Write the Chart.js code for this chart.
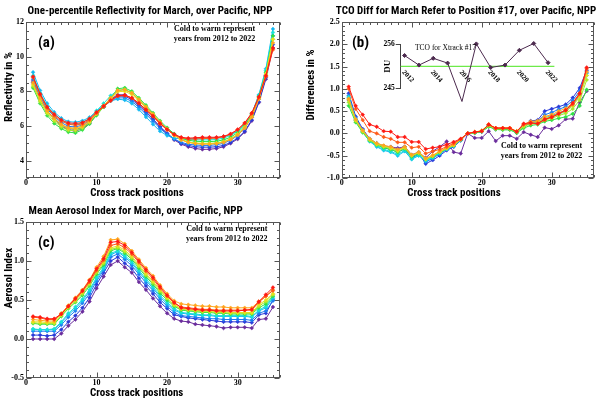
<!DOCTYPE html>
<html><head><meta charset="utf-8">
<script src="https://cdn.jsdelivr.net/npm/chart.js@4.4.1/dist/chart.umd.min.js"></script>
<style>
html,body{margin:0;padding:0;background:#fff;}
#wrap{position:relative;width:600px;height:406px;overflow:hidden;background:#fff;}
canvas{position:absolute;}
</style></head><body>
<div id="wrap">
<canvas id="cA" width="300" height="200" style="left:0;top:0;width:300px;height:200px"></canvas>
<canvas id="cB" width="300" height="200" style="left:300px;top:0;width:300px;height:200px"></canvas>
<canvas id="cC" width="300" height="200" style="left:0;top:200px;width:300px;height:200px"></canvas>
<canvas id="cI" width="200" height="80" style="left:382px;top:30px;width:200px;height:80px"></canvas>
</div>
<script>
// ---------------- DATA ----------------
const positions = [1,2,3,4,5,6,7,8,9,10,11,12,13,14,15,16,17,18,19,20,21,22,23,24,25,26,27,28,29,30,31,32,33,34,35];
const years = ['2012','2013','2014','2015','2016','2017','2018','2019','2020','2021','2022'];
const yearColors = ['#6a2c9c','#2a3ad8','#1c7cf0','#12b8f2','#18e2d6','#2ee044','#a6e82a','#e6e020','#ffa61e','#ff5a18','#ff1a14'];

// (a) One-percentile reflectivity (%)
const refl_2012 = [8.60,7.60,6.85,6.40,6.00,5.78,5.70,5.85,6.15,6.65,7.10,7.55,7.80,7.80,7.60,7.25,6.85,6.40,5.95,5.55,5.20,4.95,4.80,4.70,4.65,4.66,4.70,4.80,5.00,5.25,5.65,6.30,7.35,8.70,10.50];
const refl_2013 = [8.50,7.55,6.85,6.42,6.05,5.85,5.80,5.92,6.22,6.68,7.10,7.50,7.72,7.72,7.52,7.18,6.80,6.38,5.95,5.58,5.25,5.00,4.88,4.80,4.78,4.78,4.80,4.88,5.05,5.30,5.70,6.35,7.40,8.80,10.70];
const refl_2014 = [8.70,7.70,6.98,6.55,6.20,5.98,5.95,6.05,6.30,6.72,7.10,7.45,7.62,7.62,7.42,7.08,6.68,6.28,5.85,5.52,5.25,5.05,4.95,4.90,4.88,4.88,4.92,5.00,5.18,5.45,5.88,6.50,7.55,9.00,11.20];
const refl_2015 = [9.10,8.05,7.30,6.80,6.45,6.25,6.22,6.30,6.50,6.85,7.20,7.45,7.55,7.50,7.30,6.95,6.52,6.10,5.70,5.45,5.30,5.25,5.25,5.28,5.30,5.30,5.32,5.38,5.50,5.72,6.10,6.70,7.80,9.30,11.60];
const refl_2016 = [8.90,7.90,7.15,6.70,6.35,6.12,6.08,6.18,6.45,6.88,7.30,7.75,8.05,8.10,7.90,7.52,7.10,6.65,6.20,5.82,5.52,5.30,5.22,5.20,5.20,5.20,5.22,5.30,5.45,5.70,6.08,6.70,7.75,9.20,11.40];
const refl_2017 = [8.20,7.30,6.60,6.15,5.85,5.65,5.60,5.78,6.12,6.62,7.10,7.60,8.15,8.20,8.00,7.62,7.20,6.75,6.30,5.90,5.55,5.30,5.18,5.12,5.10,5.10,5.12,5.20,5.35,5.62,6.00,6.65,7.70,9.10,11.20];
const refl_2018 = [8.30,7.40,6.72,6.28,5.95,5.75,5.72,5.88,6.20,6.68,7.12,7.58,8.05,8.10,7.92,7.55,7.12,6.68,6.22,5.82,5.48,5.22,5.08,5.02,5.00,5.00,5.02,5.10,5.25,5.52,5.92,6.58,7.62,9.00,11.00];
const refl_2019 = [8.40,7.50,6.80,6.38,6.05,5.85,5.82,5.95,6.25,6.70,7.12,7.55,7.98,8.00,7.82,7.45,7.05,6.62,6.18,5.80,5.45,5.20,5.07,5.00,4.98,4.98,5.00,5.08,5.25,5.52,5.92,6.55,7.60,9.00,11.00];
const refl_2020 = [8.50,7.60,6.88,6.45,6.10,5.90,5.88,6.00,6.30,6.75,7.18,7.62,8.05,8.10,7.90,7.52,7.10,6.68,6.22,5.82,5.48,5.20,5.05,4.98,4.95,4.95,4.98,5.05,5.22,5.48,5.88,6.50,7.55,8.90,10.80];
const refl_2021 = [8.80,7.80,7.05,6.60,6.28,6.10,6.05,6.12,6.35,6.75,7.12,7.45,7.72,7.75,7.60,7.30,6.92,6.55,6.12,5.78,5.50,5.32,5.25,5.25,5.28,5.28,5.30,5.38,5.52,5.78,6.15,6.72,7.65,8.85,10.40];
const refl_2022 = [8.85,7.85,7.10,6.68,6.35,6.18,6.15,6.20,6.42,6.80,7.15,7.48,7.75,7.78,7.62,7.32,6.95,6.58,6.15,5.80,5.52,5.35,5.30,5.32,5.35,5.35,5.35,5.40,5.55,5.80,6.18,6.75,7.68,8.90,10.50];

// (b) TCO difference relative to position #17 (%)
const diff_2012 = [0.75,0.30,0.05,-0.15,-0.25,-0.28,-0.30,-0.33,-0.30,-0.48,-0.42,-0.55,-0.40,-0.30,-0.18,-0.42,-0.45,0.00,-0.10,-0.10,0.05,-0.17,-0.05,-0.05,-0.12,0.03,-0.03,-0.08,0.13,0.10,0.18,0.32,0.33,0.70,0.95];
const diff_2013 = [0.90,0.38,0.10,-0.12,-0.22,-0.28,-0.32,-0.36,-0.30,-0.52,-0.45,-0.68,-0.60,-0.50,-0.38,-0.30,-0.16,0.00,0.02,0.04,0.17,0.10,0.10,0.10,0.02,0.18,0.28,0.30,0.50,0.55,0.60,0.65,0.80,1.02,1.42];
const diff_2014 = [0.85,0.35,0.08,-0.14,-0.25,-0.32,-0.36,-0.42,-0.35,-0.55,-0.47,-0.64,-0.56,-0.46,-0.36,-0.29,-0.15,0.00,0.01,0.04,0.16,0.09,0.09,0.09,0.02,0.16,0.25,0.27,0.42,0.47,0.54,0.60,0.74,0.95,1.38];
const diff_2015 = [0.80,0.30,0.03,-0.18,-0.30,-0.38,-0.42,-0.50,-0.40,-0.58,-0.50,-0.62,-0.55,-0.45,-0.35,-0.28,-0.15,0.00,0.02,0.05,0.18,0.11,0.11,0.11,0.03,0.17,0.24,0.25,0.35,0.40,0.46,0.52,0.66,0.88,1.35];
const diff_2016 = [0.82,0.30,0.04,-0.17,-0.28,-0.36,-0.40,-0.47,-0.38,-0.57,-0.49,-0.60,-0.54,-0.44,-0.35,-0.28,-0.14,0.00,0.02,0.05,0.18,0.11,0.11,0.11,0.03,0.16,0.23,0.24,0.32,0.37,0.43,0.49,0.62,0.85,1.30];
const diff_2017 = [0.62,0.25,0.02,-0.16,-0.26,-0.32,-0.36,-0.42,-0.34,-0.52,-0.45,-0.58,-0.52,-0.43,-0.34,-0.27,-0.14,0.00,0.01,0.04,0.15,0.09,0.08,0.08,0.01,0.12,0.18,0.20,0.27,0.30,0.34,0.37,0.44,0.62,0.98];
const diff_2018 = [0.70,0.28,0.04,-0.15,-0.25,-0.30,-0.34,-0.40,-0.33,-0.50,-0.44,-0.58,-0.51,-0.42,-0.34,-0.27,-0.14,0.00,0.02,0.05,0.17,0.10,0.10,0.10,0.03,0.15,0.22,0.22,0.30,0.34,0.40,0.45,0.55,0.75,1.20];
const diff_2019 = [0.76,0.30,0.06,-0.13,-0.23,-0.28,-0.32,-0.38,-0.31,-0.49,-0.43,-0.57,-0.50,-0.41,-0.33,-0.26,-0.13,0.00,0.03,0.06,0.20,0.12,0.12,0.12,0.05,0.18,0.25,0.26,0.34,0.38,0.44,0.50,0.62,0.82,1.30];
const diff_2020 = [0.78,0.32,0.07,-0.12,-0.22,-0.27,-0.30,-0.36,-0.30,-0.48,-0.42,-0.56,-0.49,-0.40,-0.32,-0.25,-0.13,0.00,0.03,0.06,0.19,0.12,0.12,0.12,0.05,0.20,0.27,0.28,0.38,0.42,0.50,0.56,0.68,0.90,1.38];
const diff_2021 = [1.00,0.55,0.30,0.05,0.00,-0.08,-0.12,-0.20,-0.20,-0.32,-0.30,-0.45,-0.40,-0.36,-0.30,-0.22,-0.13,0.00,0.03,0.05,0.20,0.12,0.12,0.12,0.04,0.20,0.22,0.22,0.30,0.38,0.45,0.52,0.65,0.88,1.45];
const diff_2022 = [1.05,0.62,0.42,0.20,0.15,0.05,0.04,-0.08,-0.08,-0.19,-0.19,-0.35,-0.32,-0.30,-0.25,-0.19,-0.12,0.00,0.03,0.05,0.20,0.12,0.12,0.12,0.04,0.22,0.24,0.22,0.32,0.36,0.44,0.52,0.68,0.90,1.48];

// (c) Mean aerosol index
const ai_2012 = [0.00,0.00,0.00,0.00,0.07,0.17,0.25,0.35,0.48,0.65,0.80,0.95,1.00,0.92,0.85,0.73,0.63,0.52,0.42,0.33,0.26,0.23,0.22,0.19,0.18,0.17,0.16,0.14,0.15,0.15,0.15,0.14,0.25,0.26,0.41];
const ai_2013 = [0.05,0.05,0.04,0.05,0.12,0.22,0.30,0.40,0.53,0.70,0.85,1.00,1.05,0.97,0.90,0.78,0.68,0.58,0.47,0.39,0.31,0.29,0.27,0.26,0.25,0.24,0.23,0.22,0.22,0.22,0.22,0.21,0.31,0.33,0.50];
const ai_2014 = [0.10,0.10,0.10,0.10,0.18,0.28,0.36,0.46,0.58,0.74,0.88,1.05,1.09,1.02,0.94,0.83,0.72,0.62,0.51,0.42,0.34,0.30,0.29,0.28,0.27,0.26,0.26,0.25,0.25,0.25,0.25,0.24,0.33,0.36,0.49];
const ai_2015 = [0.12,0.12,0.12,0.12,0.21,0.31,0.39,0.49,0.61,0.77,0.90,1.08,1.12,1.05,0.97,0.86,0.75,0.65,0.54,0.45,0.37,0.33,0.32,0.31,0.30,0.30,0.29,0.29,0.29,0.29,0.29,0.28,0.36,0.40,0.52];
const ai_2016 = [0.13,0.12,0.12,0.13,0.22,0.33,0.41,0.51,0.63,0.79,0.92,1.10,1.13,1.07,0.99,0.88,0.77,0.67,0.56,0.47,0.39,0.34,0.33,0.32,0.31,0.31,0.30,0.30,0.30,0.30,0.30,0.29,0.37,0.42,0.54];
const ai_2017 = [0.20,0.19,0.19,0.19,0.29,0.39,0.47,0.56,0.68,0.83,0.95,1.13,1.16,1.10,1.02,0.91,0.80,0.70,0.59,0.50,0.42,0.37,0.36,0.35,0.34,0.34,0.33,0.33,0.32,0.32,0.32,0.32,0.40,0.45,0.55];
const ai_2018 = [0.21,0.20,0.20,0.20,0.30,0.40,0.48,0.58,0.70,0.85,0.97,1.15,1.17,1.12,1.04,0.93,0.82,0.72,0.61,0.52,0.43,0.38,0.37,0.36,0.35,0.35,0.34,0.34,0.33,0.33,0.33,0.33,0.42,0.48,0.57];
const ai_2019 = [0.22,0.22,0.21,0.21,0.31,0.41,0.50,0.60,0.72,0.87,0.99,1.17,1.19,1.14,1.06,0.95,0.84,0.74,0.63,0.53,0.44,0.39,0.38,0.37,0.36,0.36,0.35,0.35,0.34,0.34,0.34,0.34,0.44,0.50,0.58];
const ai_2020 = [0.25,0.24,0.23,0.23,0.33,0.43,0.53,0.63,0.76,0.92,1.06,1.27,1.28,1.22,1.13,1.02,0.91,0.81,0.69,0.58,0.49,0.45,0.44,0.43,0.42,0.42,0.41,0.41,0.40,0.40,0.40,0.40,0.48,0.55,0.63];
const ai_2021 = [0.28,0.27,0.25,0.25,0.32,0.42,0.51,0.61,0.73,0.88,1.01,1.20,1.22,1.17,1.09,0.98,0.87,0.77,0.65,0.55,0.46,0.41,0.40,0.39,0.38,0.38,0.37,0.37,0.37,0.37,0.37,0.37,0.47,0.55,0.62];
const ai_2022 = [0.29,0.28,0.26,0.26,0.32,0.42,0.52,0.62,0.75,0.90,1.03,1.24,1.25,1.20,1.11,1.00,0.89,0.79,0.67,0.56,0.47,0.40,0.39,0.38,0.37,0.37,0.36,0.36,0.36,0.36,0.37,0.38,0.48,0.57,0.66];

// inset: TCO for cross-track #17 (DU)
const insetYears = [2012,2013,2014,2015,2016,2017,2018,2019,2020,2021,2022];
const insetTco   = [253.2,250.8,252.5,251.3,241.7,256.1,250.2,250.8,254.5,256.2,251.4];
const insetRefLevel = 250.5;

// tick labels
const xTickValues = [0,10,20,30];
const reflTicks = [4,6,8,10,12];
const diffTicks = [-1.0,-0.5,0.0,0.5,1.0,1.5,2.0,2.5];
const aiTicks = [-0.5,0.0,0.5,1.0,1.5];
const insetTickYears = [2012,2014,2016,2018,2020,2022];
const insetYTicks = [245,256];

// ---------------- STYLE / PLUGINS ----------------
const SANS = "'Liberation Sans Narrow','Roboto Condensed','Liberation Sans',sans-serif";
const SERIF = "'Liberation Serif','DejaVu Serif',serif";
Chart.defaults.color = '#000';

function minorValues(min, max, step) {
  const out = []; let k = Math.ceil(min / step - 1e-6);
  for (;; k++) { const v = +(k * step).toFixed(6); if (v > max + 1e-6) break; out.push(v); }
  return out;
}
const framePlugin = {
  id: 'idlFrame',
  beforeDatasetsDraw(chart, args, o) {
    if (!o || !o.display) return;
    const {ctx, chartArea: a} = chart;
    const x = chart.scales.x, y = chart.scales.y;
    const isMajor = (s, v) => s.ticks.some(t => Math.abs(t.value - v) < 1e-6);
    ctx.save();
    ctx.strokeStyle = o.color; ctx.lineWidth = 1;
    const L = Math.round(a.left) + 0.5, R = Math.round(a.right) - 0.5, T = Math.round(a.top) + 0.5, B = Math.round(a.bottom) - 0.5;
    ctx.strokeRect(L, T, R - L, B - T);
    ctx.beginPath();
    for (const v of minorValues(x.min, x.max, o.xMinor)) {
      const p = Math.round(x.getPixelForValue(v)) + 0.5;
      const len = isMajor(x, v) ? o.majorLen : o.minorLen;
      ctx.moveTo(p, B); ctx.lineTo(p, B - len);
      ctx.moveTo(p, T); ctx.lineTo(p, T + len);
    }
    for (const v of minorValues(y.min, y.max, o.yMinor)) {
      const p = Math.round(y.getPixelForValue(v)) + 0.5;
      const len = isMajor(y, v) ? o.majorLen : o.minorLen;
      ctx.moveTo(L, p); ctx.lineTo(L + len, p);
      ctx.moveTo(R, p); ctx.lineTo(R - len, p);
    }
    ctx.stroke();
    ctx.restore();
  }
};
const notesPlugin = {
  id: 'notes',
  afterDatasetsDraw(chart, args, o) {
    if (!o || !o.items) return;
    const {ctx, chartArea: a} = chart;
    ctx.save();
    for (const it of o.items) {
      ctx.font = it.font; ctx.fillStyle = it.color || '#000';
      ctx.textAlign = it.align || 'left'; ctx.textBaseline = 'middle';
      ctx.fillText(it.text, a.left + it.dx, a.top + it.dy);
    }
    ctx.restore();
  }
};
const shiftPlugin = {
  id: 'shiftTitles',
  afterLayout(chart, args, o) {
    if (!o) return;
    if (o.title && chart.titleBlock) { chart.titleBlock.left += o.title; chart.titleBlock.right += o.title; }
    for (const id of ['x', 'y']) {
      const d = o[id]; const s = chart.scales[id];
      if (!d || !s) continue;
      if (!s.__origDrawTitle) s.__origDrawTitle = s.drawTitle;
      const orig = s.__origDrawTitle;
      s.drawTitle = function () {
        const h = this.isHorizontal();
        if (h) { this.left += d; this.right += d; } else { this.top += d; this.bottom += d; }
        try { orig.call(this); } finally {
          if (h) { this.left -= d; this.right -= d; } else { this.top -= d; this.bottom -= d; }
        }
      };
    }
  }
};

function seriesDatasets(list) {
  return list.map((arr, i) => ({
    label: years[i],
    data: positions.map((p, j) => ({x: p, y: arr[j]})),
    borderColor: yearColors[i], backgroundColor: yearColors[i],
    borderWidth: 1, pointRadius: 1.9, pointStyle: 'rectRot', pointBorderWidth: 0.5,
    tension: 0, order: list.length - 1 - i
  }));
}

const TFONT = {family: SANS, size: 11, weight: 'bold'};

function panel(id, c) {
  return new Chart(document.getElementById(id), {
    type: 'line',
    data: {datasets: seriesDatasets(c.series)},
    options: {
      responsive: false, animation: false, events: [],
      layout: {padding: 0},
      plugins: {
        legend: {display: false}, tooltip: {enabled: false},
        title: {display: true, text: c.title, color: '#000', font: TFONT, padding: {top: 4.5, bottom: 4.3}},
        idlFrame: {display: true, color: '#555', xMinor: 1, yMinor: c.yMinor, majorLen: 5, minorLen: 2.5},
        notes: {items: c.notes},
        shiftTitles: c.shift
      },
      scales: {
        x: {
          type: 'linear', position: 'bottom', min: 0, max: 36,
          afterBuildTicks: s => { s.ticks = xTickValues.map(v => ({value: v})); },
          afterFit: s => { s.height = 22; },
          grid: {display: false, drawTicks: false}, border: {display: false},
          ticks: {autoSkip: false, maxRotation: 0, padding: 0, color: '#000', font: {family: SERIF, size: 8, weight: 'bold'}, callback: v => String(v)},
          title: {display: true, text: 'Cross track positions', color: '#000', font: TFONT, padding: {top: 0, bottom: 0.4}}
        },
        y: {
          type: 'linear', position: 'left', min: c.yMin, max: c.yMax,
          afterBuildTicks: s => { s.ticks = c.yTicks.map(v => ({value: v})); },
          afterFit: s => { s.width = c.yWidth; },
          grid: {display: false, drawTicks: false}, border: {display: false},
          ticks: {autoSkip: false, padding: 2, color: '#000', font: {family: SERIF, size: 8, weight: 'bold'}, callback: c.fmt},
          title: {display: true, text: c.yTitle, color: '#000', font: TFONT, padding: {top: c.yTitlePad, bottom: 0}}
        },
        r: {
          type: 'linear', position: 'right', display: true,
          grid: {display: false, drawTicks: false}, border: {display: false}, ticks: {display: false},
          afterFit: s => { s.width = c.rWidth; }
        }
      }
    },
    plugins: [framePlugin, notesPlugin, shiftPlugin]
  });
}

const NOTE_FONT = "bold 8px 'Liberation Serif','DejaVu Serif',serif";
const LABEL_FONT = "bold 15px 'Liberation Sans Narrow','Roboto Condensed','Liberation Sans',sans-serif";

panel('cA', {
  title: 'One-percentile Reflectivity for March, over Pacific, NPP',
  yTitle: 'Reflectivity in %',
  series: [refl_2012, refl_2013, refl_2014, refl_2015, refl_2016, refl_2017, refl_2018, refl_2019, refl_2020, refl_2021, refl_2022],
  yMin: 3, yMax: 12, yTicks: reflTicks, yMinor: 0.5, fmt: v => String(v),
  yWidth: 26, rWidth: 20, yTitlePad: 2.7,
  shift: {title: 0, x: -16, y: -13},
  notes: [
    {text: '(a)', dx: 12, dy: 21, font: LABEL_FONT},
    {text: 'Cold to warm represent', dx: 188.5, dy: 7, align: 'center', font: NOTE_FONT},
    {text: 'years from 2012 to 2022', dx: 188.5, dy: 17, align: 'center', font: NOTE_FONT}
  ]
});

panel('cB', {
  title: 'TCO Diff for March Refer to Position #17, over Pacific, NPP',
  yTitle: 'Differences in %',
  series: [diff_2012, diff_2013, diff_2014, diff_2015, diff_2016, diff_2017, diff_2018, diff_2019, diff_2020, diff_2021, diff_2022],
  yMin: -1.0, yMax: 2.5, yTicks: diffTicks, yMinor: 0.1, fmt: v => v.toFixed(1),
  yWidth: 41.7, rWidth: 6.3, yTitlePad: 5.1,
  shift: {title: 16, x: -13.7, y: -15},
  notes: [
    {text: '(b)', dx: 10.3, dy: 21, font: LABEL_FONT},
    {text: 'Cold to warm represent', dx: 199.8, dy: 124.3, align: 'center', font: NOTE_FONT},
    {text: 'years from 2012 to 2022', dx: 199.8, dy: 133.5, align: 'center', font: NOTE_FONT}
  ]
});

panel('cC', {
  title: 'Mean Aerosol Index for March, over Pacific, NPP',
  yTitle: 'Aerosol Index',
  series: [ai_2012, ai_2013, ai_2014, ai_2015, ai_2016, ai_2017, ai_2018, ai_2019, ai_2020, ai_2021, ai_2022],
  yMin: -0.5, yMax: 1.5, yTicks: aiTicks, yMinor: 0.1, fmt: v => v.toFixed(1),
  yWidth: 26, rWidth: 20, yTitlePad: 2.7,
  shift: {title: -14.3, x: -16.3, y: -22},
  notes: [
    {text: '(c)', dx: 12, dy: 21, font: LABEL_FONT},
    {text: 'Cold to warm represent', dx: 200.8, dy: 7, align: 'center', font: NOTE_FONT},
    {text: 'years from 2012 to 2022', dx: 200.8, dy: 17, align: 'center', font: NOTE_FONT}
  ]
});

// inset chart
new Chart(document.getElementById('cI'), {
  type: 'line',
  data: {datasets: [
    {label: 'TCO for Xtrack #17', data: insetYears.map((yr, i) => ({x: yr, y: insetTco[i]})),
     borderColor: '#4c2a4e', backgroundColor: '#4c2a4e', borderWidth: 1, pointRadius: 2, pointStyle: 'rectRot', clip: false, tension: 0},
    {label: 'mean', data: [{x: 2011.73, y: insetRefLevel}, {x: 2022.44, y: insetRefLevel}],
     borderColor: '#6eea4a', borderWidth: 1.2, pointRadius: 0, clip: false}
  ]},
  options: {
    responsive: false, animation: false, events: [],
    layout: {padding: {top: 14.3, bottom: 21.7, left: 0, right: 9.3}},
    plugins: {
      legend: {display: false}, tooltip: {enabled: false}, title: {display: false},
      notes: {items: [{text: 'TCO for Xtrack #17', dx: 14.3, dy: 4, font: "7.5px 'Liberation Serif','DejaVu Serif',serif"}]}
    },
    scales: {
      x: {
        type: 'linear', position: 'top', min: 2011.73, max: 2022.44,
        afterBuildTicks: s => { s.ticks = insetTickYears.map(v => ({value: v})); },
        afterFit: s => { s.height = 0; },
        grid: {display: false, drawTicks: false}, border: {display: false},
        ticks: {autoSkip: false, mirror: true, minRotation: -47, maxRotation: -47, padding: 24, labelOffset: -1.5, color: '#000',
                font: {family: SERIF, size: 7, weight: 'bold'}, callback: v => String(v)}
      },
      y: {
        type: 'linear', position: 'left', min: 245, max: 256,
        afterBuildTicks: s => { s.ticks = insetYTicks.map(v => ({value: v})); },
        afterFit: s => { s.width = 18.7; },
        grid: {display: true, drawOnChartArea: false, drawTicks: true, tickLength: 5, color: '#444'},
        border: {display: true, color: '#444', width: 1},
        ticks: {padding: 1, color: '#000', font: {family: SERIF, size: 7.5, weight: 'bold'}, callback: v => String(v)},
        title: {display: true, text: 'DU', color: '#000', font: {family: SERIF, size: 9, weight: 'bold'}, padding: {top: 0, bottom: 0}}
      }
    }
  },
  plugins: [notesPlugin]
});
</script>
</body></html>
